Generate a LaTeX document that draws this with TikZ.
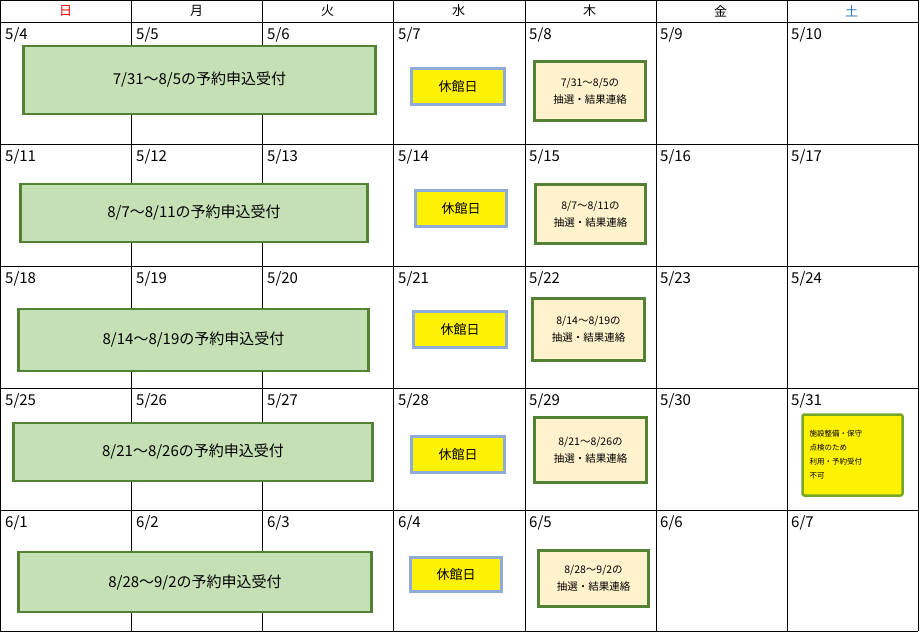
\documentclass[tikz,border=0pt]{standalone}
\usepackage{fontspec}
\setmainfont{Noto Sans CJK JP}
\usetikzlibrary{positioning}
\definecolor{dgreen}{RGB}{84,130,53}
\definecolor{lgreen}{RGB}{197,224,180}
\definecolor{tan}{RGB}{255,242,204}
\definecolor{lblue}{RGB}{143,170,220}
\definecolor{sunred}{RGB}{255,0,0}
\definecolor{satblue}{RGB}{46,117,182}
\tikzset{
  accept/.style={draw=dgreen, line width=2.5pt, fill=lgreen, font=\fontsize{15}{18}\selectfont},
  closed/.style={draw=lblue, line width=2.5pt, fill=yellow, font=\fontsize{13}{16}\selectfont},
  lottery/.style={draw=dgreen, line width=2.5pt, fill=tan, align=center, font=\fontsize{10.5}{17}\selectfont},
  datelbl/.style={anchor=north west, inner sep=0pt, font=\fontsize{15}{18}\selectfont},
}
\begin{document}
\begin{tikzpicture}[x=1pt,y=-1pt]
        \useasboundingbox (0,0) rectangle (920,633);
        \fill[white] (0,0) rectangle (920,633);
        % grid
        \foreach \x in {0,131,262,393,525,656,787,918} \draw[line width=1pt] (\x,0) -- (\x,631);
        \foreach \y in {0,22,144,266,388,510,631} \draw[line width=1pt] (0,\y) -- (918,\y);

        % weekday header
        \foreach \d/\c [count=\i from 0] in {日/sunred,月/black,火/black,水/black,木/black,金/black,土/satblue}
            \node[text=\c, font=\fontsize{13}{15}\selectfont] (head\i) at (65.5+131*\i,11) {\d};

        % dates
        \foreach \r/\dates in {0/{5/4,5/5,5/6,5/7,5/8,5/9,5/10},
                               1/{5/11,5/12,5/13,5/14,5/15,5/16,5/17},
                               2/{5/18,5/19,5/20,5/21,5/22,5/23,5/24},
                               3/{5/25,5/26,5/27,5/28,5/29,5/30,5/31},
                               4/{6/1,6/2,6/3,6/4,6/5,6/6,6/7}}
            \foreach \dt [count=\i from 0] in \dates
                \node[datelbl] (date\r\i) at (5+131*\i,27+122*\r) {\dt};

        % reservation periods
        \node[accept, minimum width=352pt, minimum height=68pt] (acc0) at (199.5,80) {7/31～8/5の予約申込受付};
        \node[accept, minimum width=347pt, minimum height=58pt] (acc1) at (194,213) {8/7～8/11の予約申込受付};
        \node[accept, minimum width=350pt, minimum height=62pt] (acc2) at (193.5,340) {8/14～8/19の予約申込受付};
        \node[accept, minimum width=359pt, minimum height=58pt] (acc3) at (193,452) {8/21～8/26の予約申込受付};
        \node[accept, minimum width=353pt, minimum height=60pt] (acc4) at (195,582) {8/28～9/2の予約申込受付};

        % closed days
        \node[closed, minimum width=93pt, minimum height=36pt] (cls0) at (458,86.5) {休館日};
        \node[closed, minimum width=91pt, minimum height=36pt] (cls1) at (461,208.5) {休館日};
        \node[closed, minimum width=93pt, minimum height=36pt] (cls2) at (460,329.5) {休館日};
        \node[closed, minimum width=93pt, minimum height=36pt] (cls3) at (458,454.5) {休館日};
        \node[closed, minimum width=91pt, minimum height=34pt] (cls4) at (456,574.5) {休館日};

        % lottery results
        \node[lottery, minimum width=111pt, minimum height=59pt] (lot0) at (590,91) {7/31～8/5の\\抽選・結果連絡};
        \node[lottery, minimum width=110pt, minimum height=59pt] (lot1) at (590.5,214) {8/7～8/11の\\抽選・結果連絡};
        \node[lottery, minimum width=112pt, minimum height=62pt] (lot2) at (588.5,329.5) {8/14～8/19の\\抽選・結果連絡};
        \node[lottery, minimum width=112pt, minimum height=65pt] (lot3) at (590.5,450) {8/21～8/26の\\抽選・結果連絡};
        \node[lottery, minimum width=110pt, minimum height=56pt] (lot4) at (593.5,578.5) {8/28～9/2の\\抽選・結果連絡};

        % maintenance notice
        \node[draw=dgreen!70!lime, line width=2.5pt, fill=yellow, rounded corners=2pt, minimum width=100pt, minimum height=81pt,
              align=left, text width=86pt, font=\fontsize{7.5}{14}\selectfont] (maint) at (852.5,455)
              {施設整備・保守\\点検のため\\利用・予約受付\\不可};
    \end{tikzpicture}
\end{document}
